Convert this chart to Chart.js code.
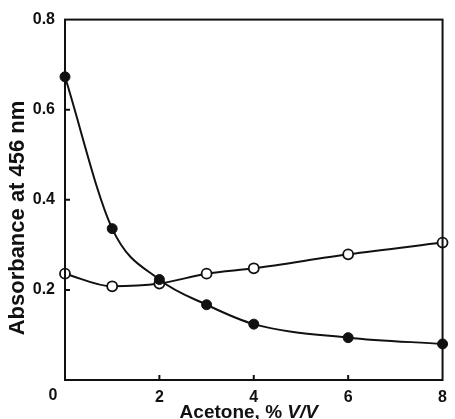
<!DOCTYPE html>
<html lang="en">
<head>
    <meta charset="UTF-8">
    <title>Absorbance vs Acetone</title>
    <script src="https://cdn.jsdelivr.net/npm/chart.js"></script>
    <style>
        body {
            margin: 0;
            background: #fff;
        }
        .wrap {
            width: 455px;
            height: 419px;
        }
    </style>
</head>
<body>
    <div class="wrap">
        <canvas id="absChart" width="455" height="419"></canvas>
    </div>

    <script>
        let acetone = [0, 1, 2, 3, 4, 6, 8];
        let filledAbs = [0.673, 0.336, 0.223, 0.167, 0.124, 0.094, 0.080];
        let openAbs = [0.236, 0.208, 0.214, 0.236, 0.248, 0.279, 0.305];
        let xTicks = [0, 2, 4, 6, 8];
        let yTicks = [0.2, 0.4, 0.6, 0.8];

        let ink = '#111';
        let fontName = '"Liberation Sans", Arial, sans-serif';

        function toPoints(xs, ys) {
            return xs.map((x, i) => ({ x: x, y: ys[i] }));
        }

        // box round the plot, inward ticks, axis titles
        let frame = {
            id: 'frame',
            afterDraw(chart) {
                let ctx = chart.ctx;
                let a = chart.chartArea;
                let xs = chart.scales.x;
                let ys = chart.scales.y;
                ctx.save();
                ctx.strokeStyle = ink;
                ctx.lineWidth = 2;
                ctx.strokeRect(a.left, a.top, a.right - a.left, a.bottom - a.top);
                ctx.beginPath();
                xTicks.forEach(v => {
                    if (v === 0 || v === 8) return;
                    let px = xs.getPixelForValue(v);
                    ctx.moveTo(px, a.bottom);
                    ctx.lineTo(px, a.bottom - 5);
                });
                yTicks.forEach(v => {
                    if (v === 0.8) return;
                    let py = ys.getPixelForValue(v);
                    ctx.moveTo(a.left, py);
                    ctx.lineTo(a.left + 5, py);
                });
                ctx.stroke();

                ctx.fillStyle = ink;

                // origin "0" sits a bit left of the corner
                ctx.font = 'bold 16px ' + fontName;
                ctx.textAlign = 'center';
                ctx.textBaseline = 'top';
                ctx.fillText('0', xs.getPixelForValue(0) - 12, a.bottom + 8);

                // x title, with italic V/V
                let part1 = 'Acetone, % ';
                let part2 = 'V/V';
                let f1 = 'bold 19px ' + fontName;
                let f2 = 'italic bold 19px ' + fontName;
                ctx.font = f1;
                let w1 = ctx.measureText(part1).width;
                ctx.font = f2;
                let w2 = ctx.measureText(part2).width;
                let cx = (a.left + a.right) / 2 - 5;
                let x0 = cx - (w1 + w2) / 2;
                let base = a.bottom + 38;
                ctx.textBaseline = 'alphabetic';
                ctx.textAlign = 'left';
                ctx.font = f1;
                ctx.fillText(part1, x0, base);
                ctx.font = f2;
                ctx.fillText(part2, x0 + w1, base);

                // y title
                ctx.translate(18, 218);
                ctx.rotate(-Math.PI / 2);
                ctx.font = 'bold 22px ' + fontName;
                ctx.textAlign = 'center';
                ctx.textBaseline = 'middle';
                ctx.fillText('Absorbance at 456 nm', 0, 0);
                ctx.restore();
            }
        };

        let ctx = document.getElementById('absChart').getContext('2d');
        new Chart(ctx, {
            type: 'line',
            data: {
                datasets: [
                    {
                        label: 'filled',
                        data: toPoints(acetone, filledAbs),
                        borderColor: ink,
                        borderWidth: 2,
                        backgroundColor: ink,
                        pointBackgroundColor: ink,
                        pointBorderColor: ink,
                        pointRadius: 5,
                        pointBorderWidth: 1,
                        cubicInterpolationMode: 'monotone',
                        clip: false
                    },
                    {
                        label: 'open',
                        data: toPoints(acetone, openAbs),
                        borderColor: ink,
                        borderWidth: 2,
                        backgroundColor: '#fff',
                        pointBackgroundColor: '#fff',
                        pointBorderColor: ink,
                        pointRadius: 5,
                        pointBorderWidth: 1.8,
                        cubicInterpolationMode: 'monotone',
                        clip: false
                    }
                ]
            },
            options: {
                responsive: false,
                animation: false,
                layout: { padding: { left: 0, right: 5, top: 15, bottom: 0 } },
                plugins: {
                    legend: { display: false },
                    tooltip: { enabled: false }
                },
                scales: {
                    x: {
                        type: 'linear',
                        min: 0,
                        max: 8,
                        afterFit: s => { s.height = 39; },
                        afterBuildTicks: s => { s.ticks = xTicks.map(v => ({ value: v })); },
                        grid: { display: false, drawTicks: false },
                        border: { display: false },
                        ticks: {
                            padding: 8,
                            color: ink,
                            font: { family: fontName, size: 16, weight: 'bold' },
                            callback: v => (v === 0 ? '' : v)
                        },
                        title: { display: false }
                    },
                    y: {
                        min: 0,
                        max: 0.8,
                        afterFit: s => { s.width = 65; },
                        afterBuildTicks: s => { s.ticks = yTicks.map(v => ({ value: v })); },
                        grid: { display: false, drawTicks: false },
                        border: { display: false },
                        ticks: {
                            padding: 10,
                            color: ink,
                            font: { family: fontName, size: 16, weight: 'bold' },
                            callback: v => v.toFixed(1)
                        },
                        title: { display: false }
                    }
                }
            },
            plugins: [frame]
        });
    </script>
</body>
</html>
